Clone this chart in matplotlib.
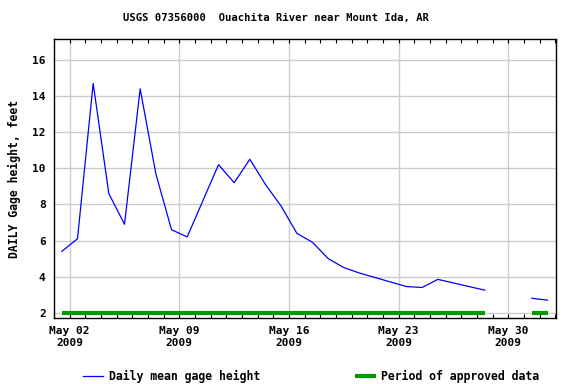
import datetime as dt
import numpy as np
import matplotlib
matplotlib.use('Agg')
import matplotlib.pyplot as plt
import matplotlib.dates as mdates

# daily mean gage height, May 1 - Jun 1 2009 (nan = missing)
days = [dt.datetime(2009, 5, 1, 12) + dt.timedelta(days=i) for i in range(32)]
gage = [5.4, 6.1, 14.7, 8.6, 6.9, 14.4, 9.7, 6.6, 6.2, 8.2,
        10.2, 9.2, 10.5, 9.1, 7.9, 6.4, 5.9, 5.0, 4.5, 4.2,
        3.95, 3.7, 3.45, 3.4, 3.85, 3.65, 3.45, 3.25, np.nan, np.nan,
        2.8, 2.7]
approved = [(dt.datetime(2009, 5, 1, 12), dt.datetime(2009, 5, 28, 12)),
            (dt.datetime(2009, 5, 31, 12), dt.datetime(2009, 6, 1, 12))]
xticks = [dt.datetime(2009, 5, d) for d in (2, 9, 16, 23, 30)]

title = 'USGS 07356000  Ouachita River near Mount Ida, AR'
ylabel = 'DAILY Gage height, feet'

plt.rcParams['font.family'] = 'DejaVu Sans Mono'
plt.rcParams['font.weight'] = 'bold'
plt.rcParams['font.size'] = 8

fig = plt.figure(figsize=(5.76, 3.84), dpi=100)
ax = fig.add_axes([54/576, 1-318/384, (556-54)/576, (318-39)/384])

ax.plot(days, gage, color='#0000ff', lw=0.9, label='Daily mean gage height')
for i, (a, b) in enumerate(approved):
    ax.plot([a, b], [2, 2], color='#009900', lw=3, solid_capstyle='butt',
            label='Period of approved data' if i == 0 else None)

ax.set_xlim(dt.datetime(2009, 5, 1), dt.datetime(2009, 6, 2, 1))
ax.set_ylim(1.71, 17.16)
ax.set_yticks(np.arange(2, 17, 2))

ax.set_xticks(xticks)
ax.xaxis.set_major_formatter(mdates.DateFormatter('%b %d\n%Y'))
ax.xaxis.set_minor_locator(mdates.DayLocator())
ax.tick_params(axis='x', which='both', direction='in', top=True, length=3,
               width=0.8, pad=6)
ax.tick_params(axis='y', length=0, pad=6)

ax.grid(True, which='major', color='#cccccc', lw=1)
ax.set_axisbelow(True)
for s in ax.spines.values():
    s.set_linewidth(1)

ax.set_ylabel(ylabel, labelpad=8, fontweight='bold', fontsize=8.3)
fig.text(276/576, 1-18/384, title, ha='center', va='center',
         fontweight='bold', fontsize=7.6)

fig.legend(loc='center', bbox_to_anchor=(311/576, 1-376/384), ncol=2,
           frameon=False, prop={'weight': 'bold', 'size': 8.3},
           handlelength=1.8, handletextpad=0.5, columnspacing=8.2)

fig.savefig('out.png', dpi=100)
